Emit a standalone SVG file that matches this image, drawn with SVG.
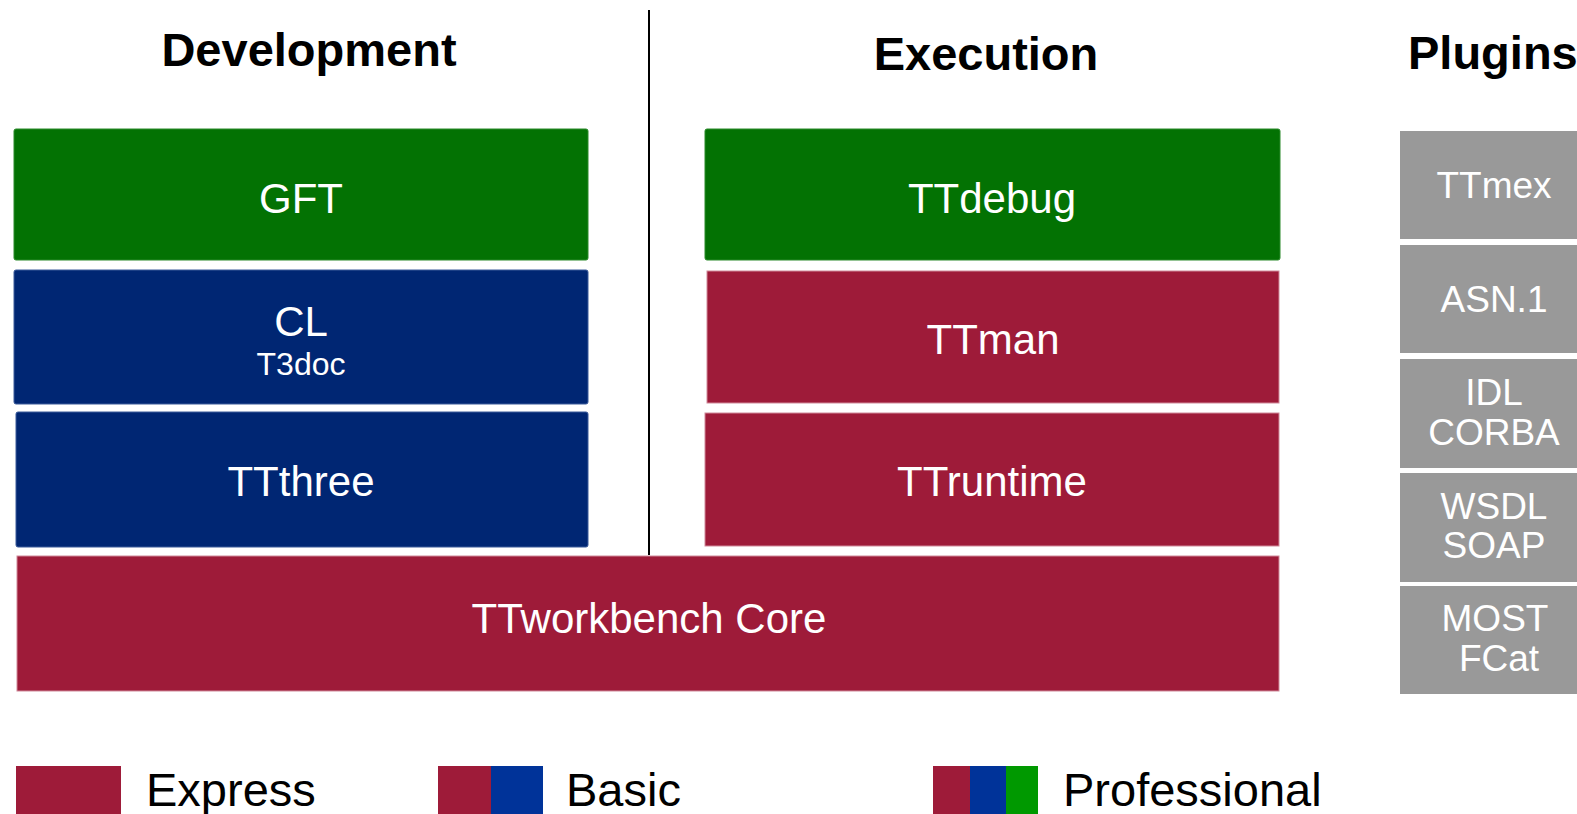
<svg xmlns="http://www.w3.org/2000/svg" width="1577" height="814" viewBox="0 0 1577 814">
<style>
text{font-family:"Liberation Sans",Arial,sans-serif}
.title{font-size:47px;font-weight:bold;fill:#000}
.lbl{font-size:42px;fill:#fff;text-anchor:middle}
.sub{font-size:32px;fill:#fff;text-anchor:middle}
.plg{font-size:37px;fill:#fff;text-anchor:middle}
.leg{font-size:47px;fill:#000}
.green{fill:#037203;stroke:#2a8a2a;stroke-width:1}
.navy{fill:#002673;stroke:#3a5a9a;stroke-width:1}
.red{fill:#9e1b39;stroke:#d08a9a;stroke-width:1}
.gray{fill:#999999}
</style>
<rect width="1577" height="814" fill="#fff"/>
<g id="titles">
<text class="title" x="309" y="66" text-anchor="middle">Development</text>
<text class="title" x="986" y="70" text-anchor="middle">Execution</text>
<text class="title" x="1408" y="69">Plugins</text>
</g>
<g id="connectors">
<line x1="649" y1="10" x2="649" y2="555" stroke="#000" stroke-width="2"/>
</g>
<g id="gft"><rect class="green" x="14" y="129" width="574" height="131" rx="2"/><text class="lbl" x="301" y="213">GFT</text></g>
<g id="cl"><rect class="navy" x="14" y="270" width="574" height="134" rx="2"/><text class="lbl" x="301" y="336">CL</text><text class="sub" x="301" y="375">T3doc</text></g>
<g id="ttthree"><rect class="navy" x="16" y="412" width="572" height="135" rx="2"/><text class="lbl" x="301" y="496">TTthree</text></g>
<g id="ttdebug"><rect class="green" x="705" y="129" width="575" height="131" rx="2"/><text class="lbl" x="992" y="213">TTdebug</text></g>
<g id="ttman"><rect class="red" x="707" y="271" width="572" height="132"/><text class="lbl" x="993" y="354">TTman</text></g>
<g id="ttruntime"><rect class="red" x="705" y="413" width="574" height="133"/><text class="lbl" x="992" y="496">TTruntime</text></g>
<g id="core"><rect class="red" x="17" y="556" width="1262" height="135"/><text class="lbl" x="649" y="633">TTworkbench Core</text></g>
<g id="ttmex"><rect class="gray" x="1400" y="131" width="177" height="108"/><text class="plg" x="1494" y="198">TTmex</text></g>
<g id="asn1"><rect class="gray" x="1400" y="245" width="177" height="108"/><text class="plg" x="1494" y="312">ASN.1</text></g>
<g id="idl"><rect class="gray" x="1400" y="359" width="177" height="109"/><text class="plg" x="1494" y="405">IDL</text><text class="plg" x="1494" y="445">CORBA</text></g>
<g id="wsdl"><rect class="gray" x="1400" y="473" width="177" height="109"/><text class="plg" x="1494" y="519">WSDL</text><text class="plg" x="1494" y="558">SOAP</text></g>
<g id="most"><rect class="gray" x="1400" y="586" width="177" height="108"/><text class="plg" x="1495" y="631">MOST</text><text class="plg" x="1499" y="671">FCat</text></g>
<g id="legend-express"><rect x="16" y="766" width="105" height="48" fill="#9e1b39"/><text class="leg" x="146" y="806">Express</text></g>
<g id="legend-basic"><rect x="438" y="766" width="53" height="48" fill="#9e1b39"/><rect x="491" y="766" width="52" height="48" fill="#003399"/><text class="leg" x="566" y="806">Basic</text></g>
<g id="legend-professional"><rect x="933" y="766" width="37" height="48" fill="#9e1b39"/><rect x="970" y="766" width="36" height="48" fill="#003399"/><rect x="1006" y="766" width="32" height="48" fill="#009900"/><text class="leg" x="1063" y="806">Professional</text></g>
</svg>
